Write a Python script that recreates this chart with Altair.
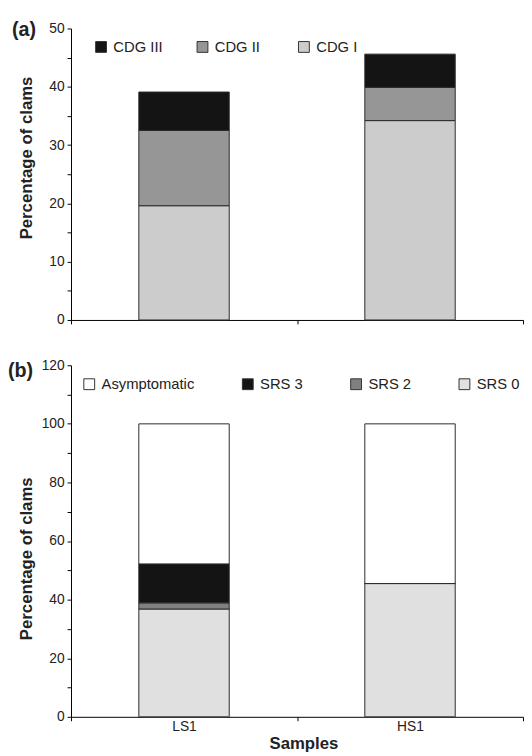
import altair as alt
import pandas as pd

FONT = "Liberation Sans"
TXT = "#222222"

samples = ["LS1", "HS1"]

# Panel (a): clam disease grade
cdg_labels = ["CDG III", "CDG II", "CDG I"]
cdg_iii = [6.6, 5.7]
cdg_ii = [12.9, 5.7]
cdg_i = [19.6, 34.2]
cdg_colors = ["#141414", "#969696", "#cccccc"]

# Panel (b): shell repair stage
srs_labels = ["Asymptomatic", "SRS 3", "SRS 2", "SRS 0"]
asymptomatic = [47.8, 54.5]
srs3 = [13.3, 0.0]
srs2 = [2.1, 0.0]
srs0 = [36.8, 45.5]
srs_colors = ["#ffffff", "#141414", "#808080", "#e0e0e0"]

panel_labels = ["(a)", "(b)"]
y_ticks_a = list(range(0, 51, 5))
y_ticks_b = list(range(0, 121, 10))

# Build long tables (pos = stacking position from bottom)
rows_a = []
for i, s in enumerate(samples):
    for pos, (lab, vals) in enumerate([("CDG I", cdg_i), ("CDG II", cdg_ii), ("CDG III", cdg_iii)]):
        rows_a.append({"sample": s, "cls": lab, "value": vals[i], "pos": pos})
df_a = pd.DataFrame(rows_a)

rows_b = []
for i, s in enumerate(samples):
    for pos, (lab, vals) in enumerate([("SRS 0", srs0), ("SRS 2", srs2), ("SRS 3", srs3), ("Asymptomatic", asymptomatic)]):
        rows_b.append({"sample": s, "cls": lab, "value": vals[i], "pos": pos})
df_b = pd.DataFrame(rows_b)


def y_axis(values, step, title_y):
    return alt.Axis(
        values=values,
        labelExpr=f"datum.value % {step} == 0 ? datum.label : ''",
        title="Percentage of clams",
        grid=False,
        tickSize=4,
        labelPadding=3,
        minExtent=24,
        maxExtent=24,
        titlePadding=12,
        titleY=title_y,
        domainColor="#000000",
        tickColor="#000000",
        labelFont=FONT,
        labelFontSize=14,
        labelColor=TXT,
        titleFont=FONT,
        titleFontSize=17,
        titleFontWeight="bold",
        titleColor=TXT,
    )


def legend(x, y, cols, align, pad):
    return alt.Legend(
        title=None,
        orient="none",
        legendX=x,
        legendY=y,
        direction="horizontal",
        columns=cols,
        gridAlign=align,
        columnPadding=pad,
        symbolType="square",
        symbolSize=121,
        symbolStrokeColor="#333333",
        symbolStrokeWidth=1,
        symbolOpacity=1,
        labelFont=FONT,
        labelFontSize=15,
        labelColor=TXT,
        labelOffset=5,
        padding=0,
    )


def panel_label(text, x, y):
    return alt.Chart(pd.DataFrame({"t": [text]})).mark_text(
        align="left", baseline="middle", font=FONT, fontSize=20,
        fontWeight="bold", color=TXT
    ).encode(text="t:N", x=alt.value(x), y=alt.value(y))


x_scale = alt.Scale(paddingInner=0, paddingOuter=0)

bars_a = alt.Chart(df_a).mark_bar(
    width=alt.RelativeBandSize(0.4), stroke="#2b2b2b", strokeWidth=1
).encode(
    x=alt.X("sample:N", sort=samples, scale=x_scale,
            axis=alt.Axis(tickBand="extent", labels=False, title=None, tickSize=4,
                          domainColor="#000000", tickColor="#000000")),
    y=alt.Y("value:Q", stack="zero",
            scale=alt.Scale(domain=[0, 50], nice=False),
            axis=y_axis(y_ticks_a, 10, 131)),
    color=alt.Color("cls:N", scale=alt.Scale(domain=cdg_labels, range=cdg_colors),
                    legend=legend(23, 11, 3, "all", 32)),
    order=alt.Order("pos:Q", sort="ascending"),
)

top = alt.layer(bars_a, panel_label(panel_labels[0], -60, 2)).properties(width=459, height=296)

bars_b = alt.Chart(df_b).mark_bar(
    width=alt.RelativeBandSize(0.4), stroke="#2b2b2b", strokeWidth=1
).encode(
    x=alt.X("sample:N", sort=samples, scale=x_scale,
            axis=alt.Axis(tickBand="extent", title="Samples", tickSize=4, labelPadding=-1,
                          labelAngle=0,
                          domainColor="#000000", tickColor="#000000",
                          labelFont=FONT, labelFontSize=14, labelColor=TXT,
                          titleFont=FONT, titleFontSize=17, titleFontWeight="bold",
                          titleColor=TXT, titleX=236, titleY=19, titleBaseline="top")),
    y=alt.Y("value:Q", stack="zero",
            scale=alt.Scale(domain=[0, 120], nice=False),
            axis=y_axis(y_ticks_b, 20, 196)),
    color=alt.Color("cls:N", scale=alt.Scale(domain=srs_labels, range=srs_colors),
                    legend=legend(11, 11.5, 4, "each", 46)),
    order=alt.Order("pos:Q", sort="ascending"),
)

bottom = alt.layer(bars_b, panel_label(panel_labels[1], -64, 6)).properties(width=459, height=357)

chart = alt.vconcat(top, bottom, spacing=32).resolve_scale(color="independent").properties(
    padding={"left": 0, "top": 7, "right": 0, "bottom": 0}
).configure_view(stroke=None)

chart.save("out.html", embed_options={"renderer": "svg", "actions": False})
